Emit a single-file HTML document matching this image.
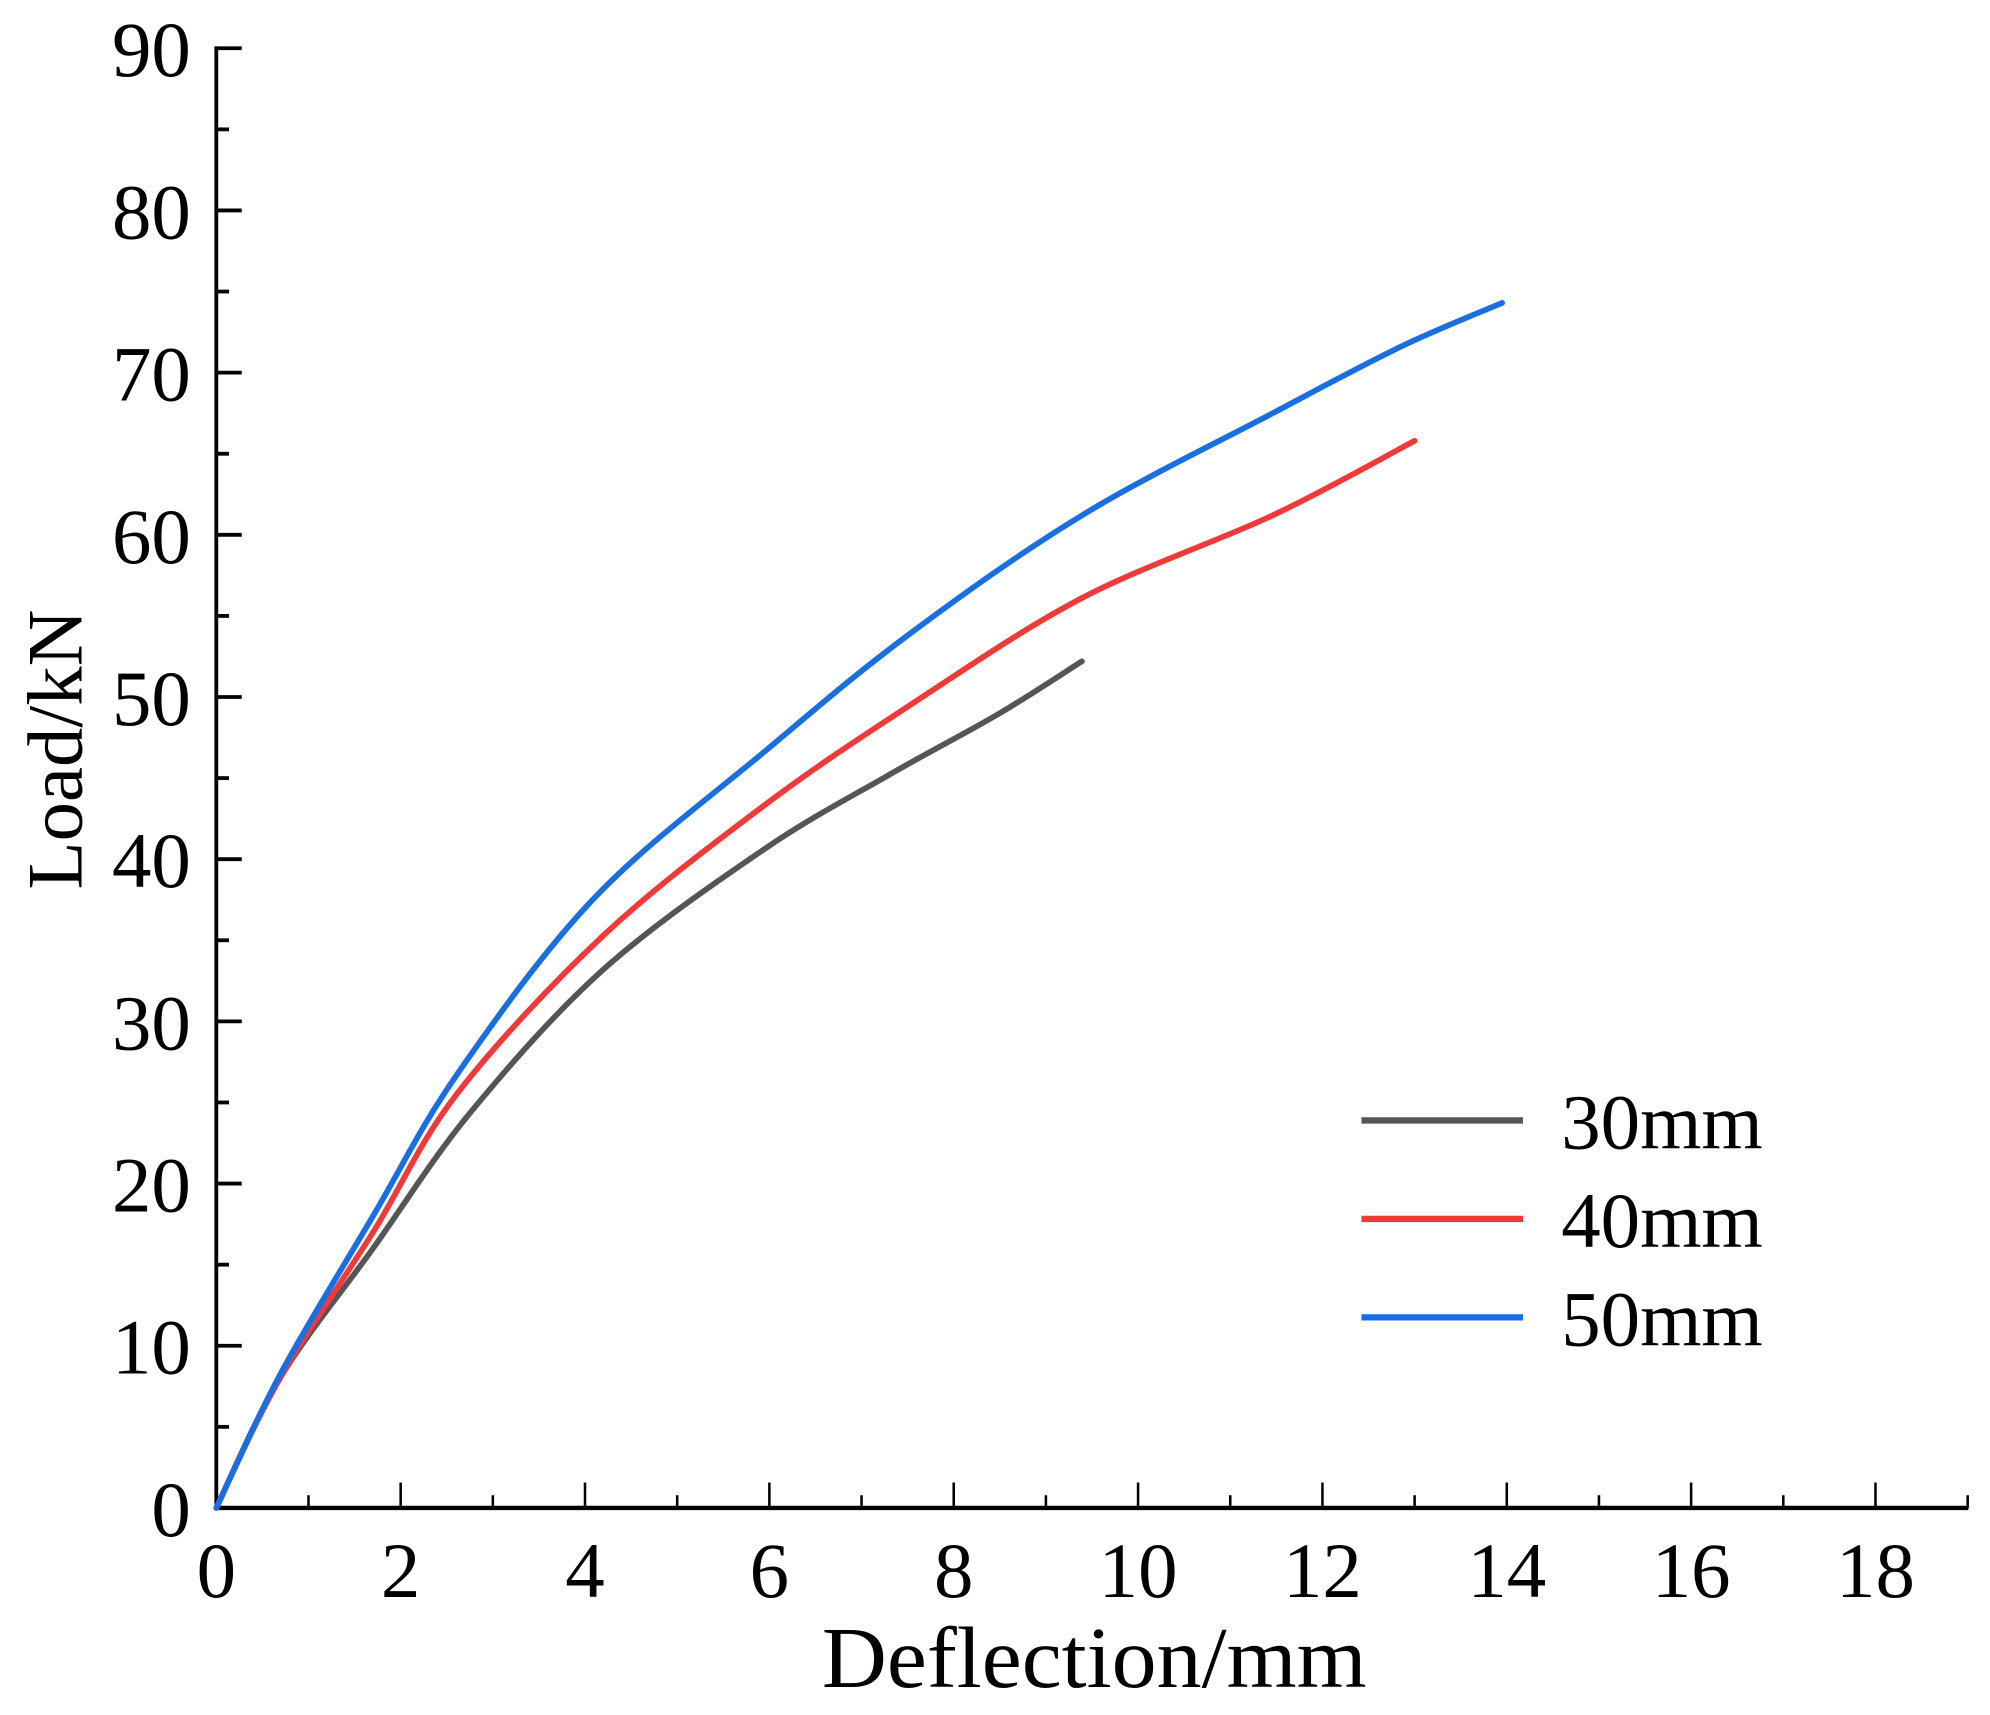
<!DOCTYPE html>
<html><head><meta charset="utf-8"><style>
html,body{margin:0;padding:0;background:#fff;}
svg{display:block;}
text{font-family:"Liberation Serif",serif;fill:#000;}
</style></head><body>
<svg id="chart" width="1990" height="1715" viewBox="0 0 1564 1350" preserveAspectRatio="none" xmlns="http://www.w3.org/2000/svg">
<g id="axes"></g><g id="series"></g><g id="legend"></g>
</svg>
<script>
const xTicks=[0,2,4,6,8,10,12,14,16,18];
const yTicks=[0,10,20,30,40,50,60,70,80,90];
const seriesNames=["30mm","40mm","50mm"];
const seriesColors=["#555555","#f03a3a","#1a6fe0"];
const s30x=[0,0.69,1.7,2.76,4.2,5.94,7.3,8.5,9.39];
const s30y=[0,8,16,24.4,33.2,40.6,45.2,49.0,52.2];
const s40x=[0,0.69,1.7,2.62,4.2,5.94,7.5,9.39,11.46,13.0];
const s40y=[0,8,17,25.6,35.3,43.3,49.4,56.1,61.2,65.8];
const s50x=[0,0.69,1.7,2.62,4.1,5.94,7.5,9.39,11.46,12.85,13.95];
const s50y=[0,8.2,18,26.8,37.6,46.6,53.8,61.2,67.5,71.6,74.3];
const ns="http://www.w3.org/2000/svg";
const X0=170,X1=1547,Y0=1187,xs=(1474-170)/18,ys=(1187-38)/90;
const xp=v=>X0+v*xs, yp=v=>Y0-v*ys;
function mk(tag,attrs,parent,txt){const e=document.createElementNS(ns,tag);for(const k in attrs)e.setAttribute(k,attrs[k]);if(txt!==undefined)e.textContent=txt;parent.appendChild(e);return e;}
function smooth(P){let d='M'+P[0][0]+','+P[0][1];
 for(let i=0;i<P.length-1;i++){const p0=P[Math.max(0,i-1)],p1=P[i],p2=P[i+1],p3=P[Math.min(P.length-1,i+2)];
  const c1=[p1[0]+(p2[0]-p0[0])/6,p1[1]+(p2[1]-p0[1])/6],c2=[p2[0]-(p3[0]-p1[0])/6,p2[1]-(p3[1]-p1[1])/6];
  d+=' C'+c1[0].toFixed(1)+','+c1[1].toFixed(1)+' '+c2[0].toFixed(1)+','+c2[1].toFixed(1)+' '+p2[0].toFixed(1)+','+p2[1].toFixed(1);}
 return d;}
const ax=document.getElementById('axes');
let e;
e=mk('line',{x1:X0,y1:Y0,x2:X1,y2:Y0,stroke:'#000','stroke-width':3.5},ax);

e=mk('line',{x1:X0,y1:Y0+1.5,x2:X0,y2:yp(90)-1.5,stroke:'#000','stroke-width':3},ax);

for(let v=1;v<=19;v++){const maj=v%2===0;
 e=mk('line',{x1:xp(v),y1:Y0,x2:xp(v),y2:Y0-(maj?20:10),stroke:'#000','stroke-width':2},ax);
 }
xTicks.forEach(v=>{e=mk('text',{x:xp(v),y:1257,'font-size':62,'text-anchor':'middle'},ax,String(v));
 });
for(let v=0;v<=90;v+=5){const maj=v%10===0;
 e=mk('line',{x1:X0,y1:yp(v),x2:X0+(maj?20:10),y2:yp(v),stroke:'#000','stroke-width':3},ax);
 }
yTicks.forEach(v=>{e=mk('text',{x:150,y:yp(v)+22,'font-size':62,'text-anchor':'end'},ax,String(v));
 });
e=mk('text',{x:0,y:0,'font-size':68,'text-anchor':'middle',transform:'translate(860,1328) scale(1.04,1)'},ax,'Deflection/mm');

e=mk('text',{x:0,y:0,'font-size':62,'text-anchor':'middle',transform:'translate(64,590) rotate(-90)'},ax,'Load/kN');

const sg=document.getElementById('series');
[[s30x,s30y],[s40x,s40y],[s50x,s50y]].forEach((s,i)=>{
 const P=s[0].map((x,j)=>[xp(x),yp(s[1][j])]);
 e=mk('path',{d:smooth(P),fill:'none',stroke:seriesColors[i],'stroke-width':4.5,'stroke-linejoin':'round','stroke-linecap':'round'},sg);
 });
const lg=document.getElementById('legend');
seriesNames.forEach((n,i)=>{const y=882+i*77.5;
 e=mk('line',{x1:1070,y1:y,x2:1197,y2:y,stroke:seriesColors[i],'stroke-width':5},lg);
 
 e=mk('text',{x:1227,y:y+22,'font-size':62},lg,n);
 });
</script>
</body></html>
